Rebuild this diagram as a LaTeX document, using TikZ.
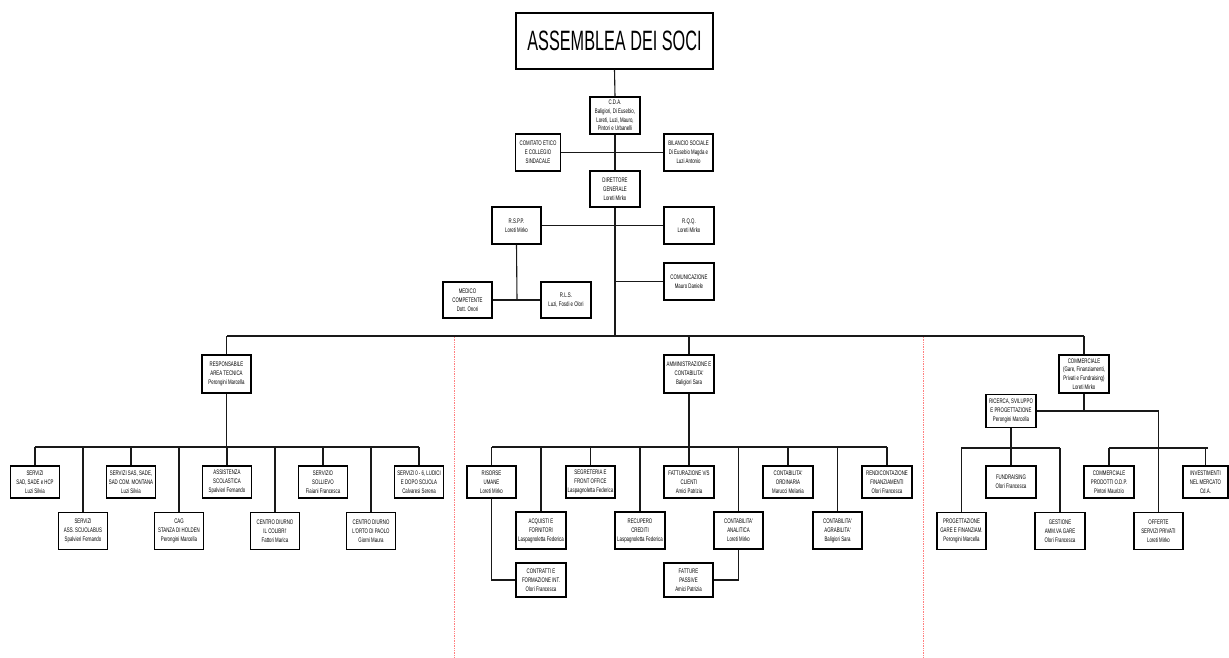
\documentclass[tikz,border=0pt]{standalone}
\usepackage{fontspec}
\setmainfont{Liberation Sans}
\newfontfamily\nf[FakeStretch=0.66]{Liberation Sans}
\newfontfamily\tf[FakeStretch=0.58]{Liberation Sans}
\usetikzlibrary{shadows}
\begin{document}
\begin{tikzpicture}[x=1pt,y=-1pt,
  box/.style={draw=black, line width=1.1pt, fill=white, minimum width=49pt, minimum height=32pt,
    inner sep=0.5pt, align=center, font=\nf\fontsize{6.6}{8.9}\selectfont,
    drop shadow={shadow xshift=0.9pt, shadow yshift=-0.9pt, fill=black!45, opacity=1}},
  tall/.style={minimum height=37pt},
  conn/.style={line width=1.1pt, draw=black!90},
  sepline/.style={draw=red!50, line width=0.7pt, densely dotted}]
\fill[white] (0,0) rectangle (1229,657);
\useasboundingbox (0,0) rectangle (1229,657);

% ---- top part ----
\node[box, minimum width=197pt, minimum height=56pt, font=\tf\fontsize{28}{30}\selectfont] (ass) at (614.5,41) {ASSEMBLEA DEI SOCI};
\node[box, tall, minimum width=50pt, font=\nf\fontsize{6.6}{8.6}\selectfont] (cda) at (615,115.5) {C.D.A.\\Baligiori, Di Eusebio,\\Loreti, Luzi, Mauro,\\Pintori e Urbanelli};
\node[box, tall, minimum width=45pt] (com) at (538,152.5) {COMITATO ETICO\\E COLLEGIO\\SINDACALE};
\node[box, tall] (bil) at (688.5,152.5) {BILANCIO SOCIALE\\Di Eusebio Magda e\\Luzi Antonio};
\node[box, minimum height=36pt, minimum width=50pt] (dir) at (615,189) {DIRETTORE\\GENERALE\\Loreti Mirko};
\node[box, tall] (rspp) at (516.5,225.5) {R.S.P.P.\\Loreti Mirko};
\node[box, tall, minimum width=50pt] (rqq) at (689,225.5) {R.Q.Q.\\Loreti Mirko};
\node[box, minimum height=36pt] (med) at (467.5,300) {MEDICO\\COMPETENTE\\Dott. Onori};
\node[box, minimum height=36pt, minimum width=50pt] (rls) at (566,300) {R.L.S.\\Luzi, Fosdi e Olori};
\node[box, tall, minimum width=50pt] (comu) at (689,281.5) {COMUNICAZIONE\\Mauro Daniele};

\coordinate (busL) at (227,336);
\coordinate (busR) at (1084,336);
\coordinate (rj) at (517,300);

\draw[conn] (ass.south) -- (cda.north);
\draw[conn] (cda.south) -- (dir.north);
\draw[conn] (com.east) -- (bil.west);
\draw[conn] (rspp.east) -- (rqq.west);
\draw[conn] (dir.south) -- (dir.south |- busL);
\draw[conn] (comu.west) -- (comu.west -| dir.south);
\draw[conn] (rspp.south) -- (rj);
\draw[conn] (med.east) -- (rls.west);
\draw[conn] (busL) -- (busR);

% separators
\coordinate (s1t) at (454,337); \coordinate (s1b) at (454,657);
\coordinate (s2t) at (923,337); \coordinate (s2b) at (923,657);
\draw[sepline] (s1t) -- (s1b);
\draw[sepline] (s2t) -- (s2b);

% ---- left section ----
\node[box, minimum height=38pt] (resp) at (226.5,374) {RESPONSABILE\\AREA TECNICA\\Perongini Marcella};
\coordinate (lb1) at (35,447); \coordinate (lb2) at (419,447);
\draw[conn] (resp.north) -- (resp.north |- busL);
\draw[conn] (resp.south) -- (resp.south |- lb1);
\draw[conn] (lb1) -- (lb2);

\node[box] (l1) at (35,482) {SERVIZI\\SAD, SADE e HCP\\Luzi Silvia};
\node[box] (l3) at (131,482) {SERVIZI SAS, SADE,\\SAD COM. MONTANA\\Luzi Silvia};
\node[box] (l5) at (227,482) {ASSISTENZA\\SCOLASTICA\\Spalvieri Fernando};
\node[box] (l7) at (323,482) {SERVIZIO\\SOLLIEVO\\Fiaiani Francesca};
\node[box] (l9) at (419,482) {SERVIZI 0 - 6, LUDICI\\E DOPO SCUOLA\\Calvaresi Serena};
\node[box, tall] (l2) at (83,531) {SERVIZI\\ASS. SCUOLABUS\\Spalvieri Fernando};
\node[box, tall] (l4) at (179,531) {CAG\\STANZA DI HOLDEN\\Perongini Marcella};
\node[box, tall] (l6) at (275,531) {CENTRO DIURNO\\IL COLIBRI'\\Fattori Marica};
\node[box, tall] (l8) at (371,531) {CENTRO DIURNO\\L'ORTO DI PAOLO\\Giorni Maura};
\foreach \n in {l1,l2,l3,l4,l5,l6,l7,l8,l9}
  \draw[conn] (\n.north) -- (\n.north |- lb1);

% ---- middle section ----
\node[box, minimum height=38pt, minimum width=50pt] (amm) at (689,374) {AMMINISTRAZIONE E\\CONTABILITA'\\Baligiori Sara};
\coordinate (mb1) at (492,447); \coordinate (mb2) at (887,447);
\draw[conn] (amm.north) -- (amm.north |- busL);
\draw[conn] (amm.south) -- (amm.south |- mb1);
\draw[conn] (mb1) -- (mb2);

\node[box] (m1) at (491.5,482) {RISORSE\\UMANE\\Loreti Mirko};
\node[box] (m3) at (590.5,482) {SEGRETERIA E\\FRONT OFFICE\\Laspagnoletta Federica};
\node[box, minimum width=50pt] (m5) at (689,482) {FATTURAZIONE V/S\\CLIENTI\\Amici Patrizia};
\node[box, minimum width=50pt] (m7) at (788,482) {CONTABILITA'\\ORDINARIA\\Marucci Melania};
\node[box, minimum width=50pt] (m9) at (887,482) {RENDICONTAZIONE\\FINANZIAMENTI\\Olori Francesca};
\node[box, tall, minimum width=50pt] (m2) at (541,530.5) {ACQUISTI E\\FORNITORI\\Laspagnoletta Federica};
\node[box, tall, minimum width=50pt] (m4) at (640,530.5) {RECUPERO\\CREDITI\\Laspagnoletta Federica};
\node[box, tall] (m6) at (738.5,530.5) {CONTABILITA'\\ANALITICA\\Loreti Mirko};
\node[box, tall] (m8) at (837.5,530.5) {CONTABILITA'\\AGRABILITA'\\Baligiori Sara};
\node[box, minimum height=34pt, minimum width=50pt] (m10) at (541,580) {CONTRATTI E\\FORMAZIONE INT.\\Olori Francesca};
\node[box, minimum height=34pt] (m11) at (688.5,580) {FATTURE\\PASSIVE\\Amici Patrizia};
\foreach \n in {m1,m2,m3,m4,m5,m6,m7,m8,m9}
  \draw[conn] (\n.north) -- (\n.north |- mb1);
\draw[conn] (m1.south) |- (m10.west);
\draw[conn] (m6.south) |- (m11.east);

% ---- right section ----
\node[box, minimum height=38pt, minimum width=50pt, font=\nf\fontsize{6.6}{8.6}\selectfont] (comm) at (1084,374) {COMMERCIALE\\(Gare, Finanziamenti,\\Privati e Fundraising)\\Loreti Mirko};
\node[box, minimum height=33pt, minimum width=50pt] (ric) at (1011,411) {RICERCA, SVILUPPO\\E PROGETTAZIONE\\Perongini Marcella};
\coordinate (rjn) at (1158,411);
\coordinate (rb1) at (961,448); \coordinate (rb2) at (1060,448);
\coordinate (rb3) at (1109,448); \coordinate (rb4) at (1208,448);
\draw[conn] (comm.north) -- (comm.north |- busL);
\draw[conn] (comm.south) -- (comm.south |- rjn);
\draw[conn] (ric.south) -- (ric.south |- rb1);
\draw[conn] (rb1) -- (rb2);
\draw[conn] (rb3) -- (rb4);

\node[box, minimum width=50pt] (fund) at (1011,482) {FUNDRAISING\\Olori Francesca};
\node[box, minimum width=50pt] (cpod) at (1109,482) {COMMERCIALE\\PRODOTTI O.D.P.\\Pintori Maurizio};
\node[box, minimum width=45pt] (inv) at (1205.5,482) {INVESTIMENTI\\NEL MERCATO\\Cd.A.};
\node[box, tall] (prog) at (961.5,531) {PROGETTAZIONE\\GARE E FINANZIAM.\\Perongini Marcella};
\node[box, tall, minimum width=50pt] (gest) at (1060,531) {GESTIONE\\AMM.VA GARE\\Olori Francesca};
\node[box, tall] (off) at (1158.5,531) {OFFERTE\\SERVIZI PRIVATI\\Loreti Mirko};
\draw[conn] (ric.east) -- (ric.east -| off.north) -- (off.north);
\draw[conn] (fund.north) -- (fund.north |- rb1);
\draw[conn] (prog.north) -- (prog.north |- rb1);
\draw[conn] (gest.north) -- (gest.north |- rb1);
\draw[conn] (cpod.north) -- (cpod.north |- rb3);
\draw[conn] (inv.north) -- (inv.north |- rb3);
\end{tikzpicture}
\end{document}
